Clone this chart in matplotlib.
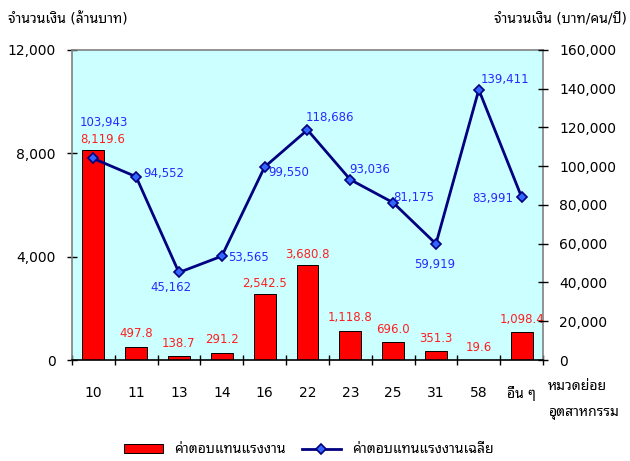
import matplotlib.pyplot as plt
import numpy as np
from matplotlib.ticker import FuncFormatter

plt.rcParams['font.family'] = ['DejaVu Sans', 'Noto Sans Thai Looped']
plt.rcParams['font.size'] = 9

# Data
categories = ['10', '11', '13', '14', '16', '22', '23', '25', '31', '58', 'อื่น ๆ']
compensation = [8119.6, 497.8, 138.7, 291.2, 2542.5, 3680.8, 1118.8, 696.0, 351.3, 19.6, 1098.4]
avg_compensation = [103943, 94552, 45162, 53565, 99550, 118686, 93036, 81175, 59919, 139411, 83991]
bar_labels = ['8,119.6', '497.8', '138.7', '291.2', '2,542.5', '3,680.8', '1,118.8', '696.0', '351.3', '19.6', '1,098.4']

# label offsets (points)
line_offsets = [(8, 26), (20, 2), (-6, -11), (19, -1), (17, -4), (16, 9), (14, 7), (15, 4), (-1, -15), (19, 7), (-21, -1)]
bar_offsets = [(7, 3), (0, 5), (0, 5), (0, 5), (0, 3), (0, 3), (0, 5), (0, 4), (0, 4), (0, 4), (0, 4)]

fig = plt.figure(figsize=(6.3, 4.61), dpi=100)
ax = fig.add_axes([0.114, 0.219, 0.748, 0.673])
ax.set_facecolor('#CCFFFF')

x = np.arange(len(categories))
ax.bar(x, compensation, width=0.51, color='#FF0000', edgecolor='black', linewidth=0.7,
       label='ค่าตอบแทนแรงงาน', zorder=2)
for xi, v, lab, off in zip(x, compensation, bar_labels, bar_offsets):
    ax.annotate(lab, (xi, v), xytext=off, textcoords='offset points',
                ha='center', va='bottom', color='#FF2020', fontsize=8.5)

ax.set_xlim(-0.5, len(categories) - 0.5)
ax.set_ylim(0, 12000)
ax.set_yticks([0, 4000, 8000, 12000])
ax.yaxis.set_major_formatter(FuncFormatter(lambda v, p: f'{v:,.0f}'))
ax.set_xticks(x)
ax.set_xticklabels(categories, fontsize=10)
ax.set_xticks(np.arange(-0.5, len(categories)), minor=True)
ax.tick_params(axis='y', direction='inout', length=7, width=1, labelsize=10, pad=8)
ax.tick_params(axis='x', which='major', length=0, pad=19)
ax.tick_params(axis='x', which='minor', direction='inout', length=7, width=1)
for s in ['left', 'right', 'top']:
    ax.spines[s].set_color('#808080')
    ax.spines[s].set_linewidth(1.2)
ax.spines['bottom'].set_color('black')
ax.spines['bottom'].set_linewidth(1.2)

ax2 = ax.twinx()
ax2.plot(x, avg_compensation, color='#000080', linewidth=2, marker='D', markersize=5,
         markerfacecolor='#3366FF', markeredgecolor='#000080', markeredgewidth=1.2,
         label='ค่าตอบแทนแรงงานเฉลี่ย', zorder=3)
for xi, v, off in zip(x, avg_compensation, line_offsets):
    ax2.annotate(f'{v:,}', (xi, v), xytext=off, textcoords='offset points',
                 ha='center', va='center', color='#2A2AFF', fontsize=8.5)
ax2.set_ylim(0, 160000)
ax2.set_yticks(np.arange(0, 160001, 20000))
ax2.yaxis.set_major_formatter(FuncFormatter(lambda v, p: f'{v:,.0f}'))
ax2.tick_params(axis='y', direction='inout', length=7, width=1, labelsize=10, pad=8)
for s in ['left', 'right', 'bottom', 'top']:
    ax2.spines[s].set_visible(False)

fig.text(0.012, 0.958, 'จำนวนเงิน (ล้านบาท)', fontsize=10, ha='left', va='center')
fig.text(0.995, 0.958, 'จำนวนเงิน (บาท/คน/ปี)', fontsize=10, ha='right', va='center')
fig.text(0.87, 0.163, 'หมวดย่อย', fontsize=10, ha='left', va='center')
fig.text(0.87, 0.105, 'อุตสาหกรรม', fontsize=10, ha='left', va='center')

h1, l1 = ax.get_legend_handles_labels()
h2, l2 = ax2.get_legend_handles_labels()
fig.legend(h1 + h2, l1 + l2, loc='center', bbox_to_anchor=(0.49, 0.025), ncol=2,
           frameon=False, fontsize=10, handlelength=2.8, handleheight=0.6,
           columnspacing=1.2)

fig.savefig('out.png')
